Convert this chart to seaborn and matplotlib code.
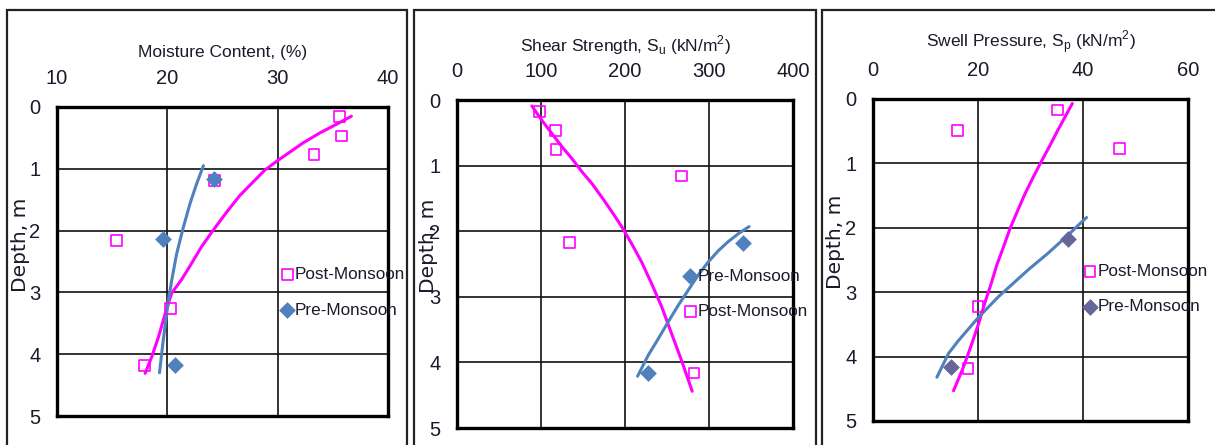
#!/usr/bin/env python3

import matplotlib

matplotlib.use("Agg")

import matplotlib.pyplot as plt
import pandas as pd
import seaborn as sns
from matplotlib.patches import Rectangle

# --- data (depth in m) ---
moisture_post_x = [35.6, 35.8, 33.3, 24.3, 15.4, 20.3, 17.9]
moisture_post_depth = [0.15, 0.47, 0.77, 1.19, 2.16, 3.26, 4.18]
moisture_pre_x = [24.2, 19.6, 20.7]
moisture_pre_depth = [1.17, 2.14, 4.17]
moisture_trend_post_x = [36.68, 35.32, 33.82, 32.31, 31.10, 29.90, 28.84, 27.79, 26.58,
                         25.38, 24.17, 23.10, 22.20, 21.30, 20.40, 19.86, 19.20, 18.59, 17.99]
moisture_trend_post_depth = [0.15, 0.28, 0.42, 0.58, 0.73, 0.88, 1.02, 1.21, 1.43,
                             1.70, 1.99, 2.26, 2.53, 2.79, 3.01, 3.31, 3.72, 4.04, 4.31]
moisture_trend_pre_x = [23.27, 22.66, 22.06, 21.46, 20.85, 20.40, 20.10, 19.86, 19.59, 19.29]
moisture_trend_pre_depth = [0.95, 1.24, 1.56, 1.94, 2.37, 2.80, 3.13, 3.45, 3.83, 4.30]

shear_post_x = [98, 117, 118, 267, 134, 282]
shear_post_depth = [0.18, 0.46, 0.76, 1.16, 2.17, 4.16]
shear_pre_x = [341, 227]
shear_pre_depth = [2.18, 4.16]
shear_trend_post_x = [89.1, 101.0, 112.9, 124.8, 136.6, 148.5, 160.4, 172.3, 184.2,
                      196.0, 207.9, 219.8, 231.7, 243.6, 255.4, 267.3, 280.0]
shear_trend_post_depth = [0.09, 0.31, 0.51, 0.71, 0.89, 1.09, 1.27, 1.48, 1.70,
                          1.93, 2.19, 2.47, 2.80, 3.15, 3.56, 3.97, 4.44]
shear_trend_pre_x = [347.7, 334.7, 322.8, 310.9, 299.0, 287.1, 275.2, 263.4, 251.5,
                     239.6, 227.7, 215.0]
shear_trend_pre_depth = [1.93, 2.04, 2.16, 2.30, 2.47, 2.67, 2.90, 3.13, 3.38,
                         3.64, 3.89, 4.21]

swell_post_x = [35.1, 16.1, 47.0, 20.0, 18.1]
swell_post_depth = [0.17, 0.49, 0.77, 3.22, 4.18]
swell_pre_x = [37.1, 14.9]
swell_pre_depth = [2.17, 4.16]
swell_trend_post_x = [37.96, 36.57, 35.17, 33.71, 32.13, 30.54, 28.96, 27.57, 26.11,
                      24.84, 23.57, 22.50, 21.36, 20.22, 18.82, 17.24, 15.34]
swell_trend_post_depth = [0.07, 0.28, 0.49, 0.72, 0.96, 1.21, 1.47, 1.73, 2.01,
                          2.30, 2.58, 2.87, 3.15, 3.46, 3.80, 4.16, 4.53]
swell_trend_pre_x = [40.68, 39.10, 37.20, 35.30, 33.40, 31.50, 29.59, 27.69, 25.79,
                     23.89, 21.99, 20.09, 18.19, 16.29, 14.39, 12.17]
swell_trend_pre_depth = [1.84, 1.96, 2.11, 2.25, 2.39, 2.52, 2.65, 2.79, 2.93,
                         3.07, 3.23, 3.39, 3.57, 3.75, 3.95, 4.32]

depth_ticks = [0, 1, 2, 3, 4, 5]

MAGENTA = "#ff00ff"
BLUE = "#4f81bd"
TEXT = "#1a1a2a"

sns.set_style("white")
plt.rcParams["font.family"] = ["Liberation Sans", "DejaVu Sans"]
plt.rcParams["mathtext.fontset"] = "custom"
plt.rcParams["mathtext.rm"] = "Liberation Sans"

W, H = 1215, 445


def axes_rect(left, right, top, bottom):
    return [left / W, 1 - bottom / H, (right - left) / W, (bottom - top) / H]


def draw_panel(ax, post, pre, trend_post, trend_pre, xlim, xticks, title,
               pre_color, legend_order, legend_anchor, ylabel_x, title_y):
    post_df = pd.DataFrame({"x": post[0], "depth": post[1]})
    pre_df = pd.DataFrame({"x": pre[0], "depth": pre[1]})
    tp_df = pd.DataFrame({"x": trend_post[0], "depth": trend_post[1]})
    tq_df = pd.DataFrame({"x": trend_pre[0], "depth": trend_pre[1]})

    sns.lineplot(data=tp_df, x="x", y="depth", sort=False, estimator=None,
                 color=MAGENTA, lw=2.2, ax=ax, zorder=3)
    sns.lineplot(data=tq_df, x="x", y="depth", sort=False, estimator=None,
                 color=BLUE, lw=2.2, ax=ax, zorder=3)
    sns.scatterplot(data=post_df, x="x", y="depth", marker="s", s=60,
                    facecolors="none", edgecolor=MAGENTA, linewidth=1.2,
                    label="Post-Monsoon", ax=ax, zorder=4)
    sns.scatterplot(data=pre_df, x="x", y="depth", marker="D", s=64,
                    color=pre_color, edgecolor=pre_color, linewidth=0.5,
                    label="Pre-Monsoon", ax=ax, zorder=4)

    ax.set_xlim(*xlim)
    ax.set_ylim(5, 0)
    ax.set_xticks(xticks)
    ax.set_yticks(depth_ticks)
    ax.xaxis.tick_top()
    ax.tick_params(axis="x", length=0, pad=14, labelsize=14.5, labelcolor=TEXT)
    ax.tick_params(axis="y", length=0, pad=12, labelsize=14.5, labelcolor=TEXT)
    ax.grid(True, color="#111111", lw=1.2)
    for sp in ax.spines.values():
        sp.set_visible(True)
        sp.set_color("black")
        sp.set_linewidth(2.4)

    ax.xaxis.set_label_position("top")
    ax.set_xlabel(title, fontsize=12.5, color=TEXT)
    ax.xaxis.set_label_coords(0.5, title_y)
    ax.set_ylabel("Depth, m", fontsize=14.5, color=TEXT, family="DejaVu Sans")
    ax.yaxis.set_label_coords(ylabel_x, 0.555)

    handles, labels = ax.get_legend_handles_labels()
    lookup = dict(zip(labels, handles))
    ax.legend([lookup[k] for k in legend_order], legend_order,
              loc="center left", bbox_to_anchor=legend_anchor, frameon=False,
              borderpad=0, borderaxespad=0, handlelength=0.6,
              handletextpad=0.15, labelspacing=1.2, fontsize=12.3,
              labelcolor=TEXT)


fig = plt.figure(figsize=(W / 100, H / 100), dpi=100)

# panel frames
for left, right in [(7, 407), (414, 816), (822, 1230)]:
    fig.add_artist(Rectangle((left / W, -0.05), (right - left) / W, 1.05 - 10 / H,
                             transform=fig.transFigure, fill=False,
                             edgecolor="#222222", lw=1.6))

ax1 = fig.add_axes(axes_rect(57, 388, 107, 416))
draw_panel(ax1, (moisture_post_x, moisture_post_depth),
           (moisture_pre_x, moisture_pre_depth),
           (moisture_trend_post_x, moisture_trend_post_depth),
           (moisture_trend_pre_x, moisture_trend_pre_depth),
           (10, 40), [10, 20, 30, 40], "Moisture Content, (%)", BLUE,
           ["Post-Monsoon", "Pre-Monsoon"], (0.68, 0.40), -0.083, 1.162)

ax2 = fig.add_axes(axes_rect(457, 793, 100, 428))
draw_panel(ax2, (shear_post_x, shear_post_depth),
           (shear_pre_x, shear_pre_depth),
           (shear_trend_post_x, shear_trend_post_depth),
           (shear_trend_pre_x, shear_trend_pre_depth),
           (0, 400), [0, 100, 200, 300, 400],
           r"Shear Strength, S$_\mathregular{u}$ (kN/m$^\mathregular{2}$)", BLUE,
           ["Pre-Monsoon", "Post-Monsoon"], (0.679, 0.409), -0.057, 1.149)

ax3 = fig.add_axes(axes_rect(873, 1188, 99, 421))
draw_panel(ax3, (swell_post_x, swell_post_depth),
           (swell_pre_x, swell_pre_depth),
           (swell_trend_post_x, swell_trend_post_depth),
           (swell_trend_pre_x, swell_trend_pre_depth),
           (0, 60), [0, 20, 40, 60],
           r"Swell Pressure, S$_\mathregular{p}$ (kN/m$^\mathregular{2}$)", "#666699",
           ["Post-Monsoon", "Pre-Monsoon"], (0.673, 0.41), -0.09, 1.161)

fig.savefig("out.png", dpi=100)
